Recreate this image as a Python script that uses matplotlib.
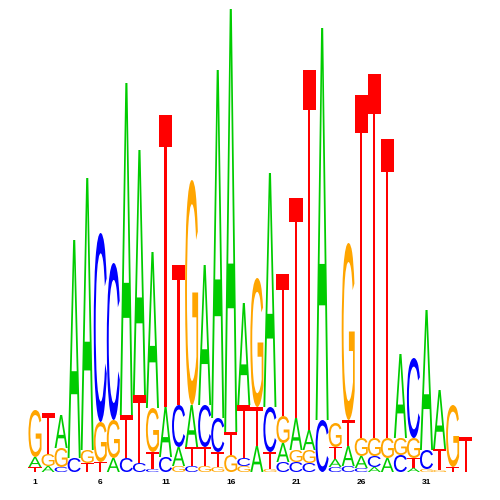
import numpy as np
import matplotlib
matplotlib.use('Agg')
import matplotlib.pyplot as plt
from matplotlib.textpath import TextPath
from matplotlib.patches import PathPatch
from matplotlib.font_manager import FontProperties
from matplotlib.transforms import Affine2D

# altezze delle lettere per posizione (bit)
posizioni = np.arange(1, 35)
alt_A = [0.10, 0.06, 0.33, 2.18, 2.72, 0.00, 0.14, 3.32, 2.45, 1.56,
         0.50, 0.19, 0.42, 1.40, 3.48, 4.23, 1.02, 0.26, 2.34, 0.19,
         0.32, 0.20, 3.92, 0.08, 0.20, 0.12, 0.05, 0.14, 0.84, 0.04,
         1.40, 0.59, 0.00, 0.00]
alt_C = [0.00, 0.00, 0.05, 0.14, 0.00, 1.89, 1.57, 0.14, 0.09, 0.03,
         0.15, 0.42, 0.06, 0.42, 0.34, 0.00, 0.08, 0.00, 0.45, 0.10,
         0.10, 0.09, 0.52, 0.05, 0.06, 0.04, 0.11, 0.00, 0.17, 0.80,
         0.19, 0.00, 0.00, 0.00]
alt_G = [0.47, 0.12, 0.19, 0.00, 0.13, 0.40, 0.38, 0.00, 0.00, 0.44,
         0.00, 0.06, 2.25, 0.06, 0.05, 0.17, 0.06, 1.29, 0.03, 0.27,
         0.12, 0.13, 0.00, 0.24, 1.77, 0.18, 0.18, 0.20, 0.17, 0.20,
         0.03, 0.02, 0.62, 0.00]
alt_T = [0.05, 0.41, 0.00, 0.00, 0.09, 0.10, 0.00, 0.43, 0.68, 0.17,
         2.92, 1.40, 0.19, 0.19, 0.15, 0.23, 0.53, 0.39, 0.17, 1.42,
         2.20, 3.60, 0.00, 0.12, 0.26, 3.43, 3.64, 2.99, 0.00, 0.10,
         0.00, 0.21, 0.05, 0.35]
etichette = [1, 6, 11, 16, 21, 26, 31]

colori = {'A': '#00CC00', 'C': '#0000FF', 'G': '#FFA500', 'T': '#FF0000'}

fp = FontProperties(family='Liberation Sans', weight='normal')
glifi = {b: TextPath((0, 0), b, size=1, prop=fp) for b in 'ACGT'}


def lettera(ax, b, x, y, w, h):
    p = glifi[b]
    bb = p.get_extents()
    t = Affine2D().translate(-bb.x0, -bb.y0).scale(w / bb.width, h / bb.height).translate(x - w / 2, y)
    ax.add_patch(PathPatch(t.transform_path(p), fc=colori[b], ec='none', lw=0))


fig = plt.figure(figsize=(5, 5), dpi=100)
ax = fig.add_axes([0, 0, 1, 1])
passo = 13.05
ax.set_xlim(1 - 35 / passo, 1 + 465 / passo)
ax.set_ylim(-0.28, 4.72)
ax.axis('off')

for i, pos in enumerate(posizioni):
    col = [('A', alt_A[i]), ('C', alt_C[i]), ('G', alt_G[i]), ('T', alt_T[i])]
    col = sorted([c for c in col if c[1] > 0], key=lambda c: c[1])
    y = 0.0
    for b, h in col:
        lettera(ax, b, pos, y, 1.0, h)
        y += h

for e in etichette:
    ax.text(e, -0.11, str(e), ha='center', va='center', fontsize=6,
            fontweight='bold', family='Liberation Sans')

fig.savefig('out.png', dpi=100)
